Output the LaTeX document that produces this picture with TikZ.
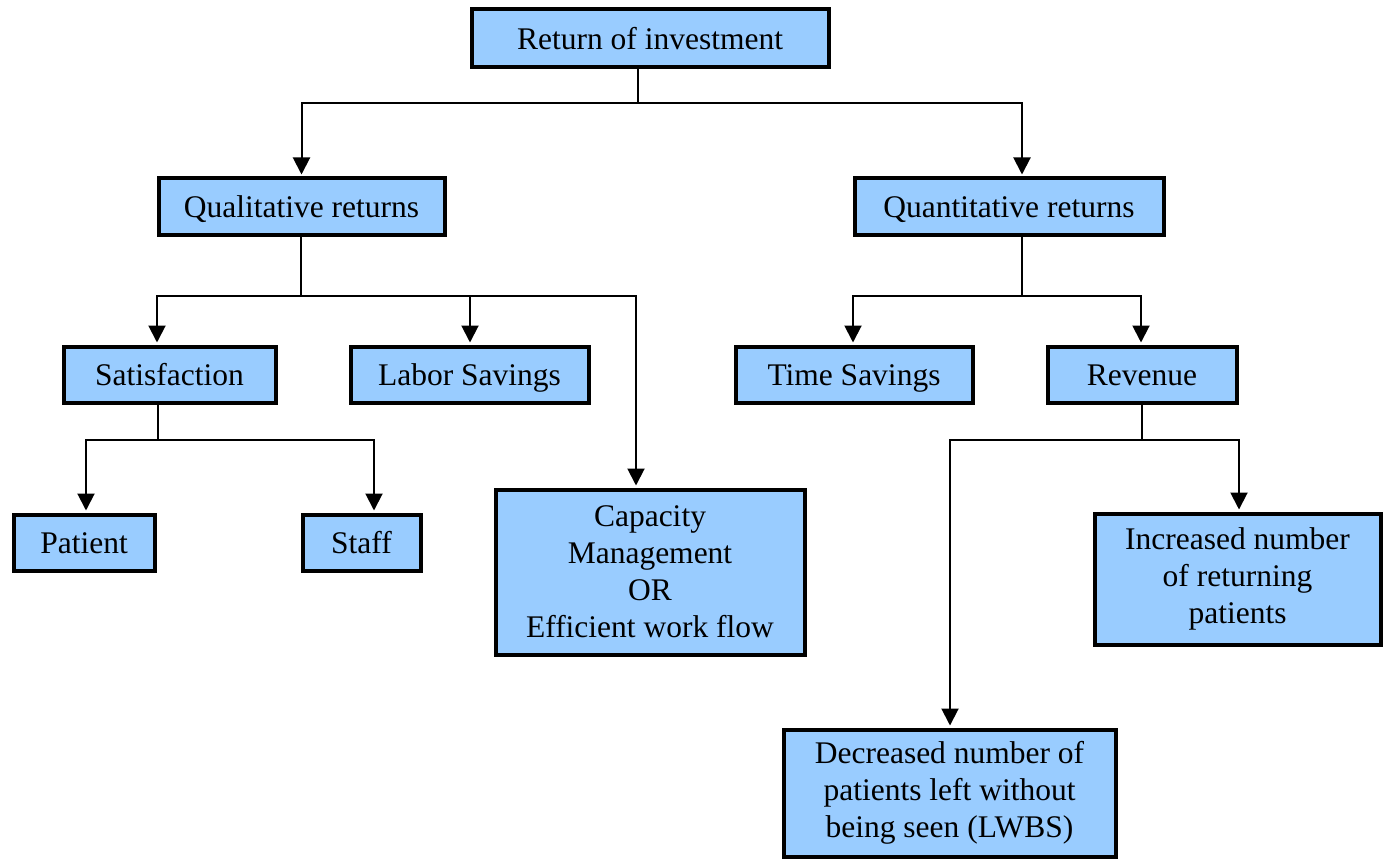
\documentclass[tikz,border=0pt]{standalone}
\usepackage{fontspec}
\setmainfont{Liberation Serif}
\newfontfamily\timesfont{Liberation Serif}
\usetikzlibrary{arrows.meta}
\definecolor{boxblue}{HTML}{99CCFF}
\tikzset{
  box/.style={draw=black, line width=4pt, fill=boxblue, inner sep=0pt,
    align=center, font=\timesfont\fontsize{31.5}{37}\selectfont},
  one/.style={text height=22pt, text depth=0pt},
  conn/.style={line width=2pt, draw=black},
  arr/.style={conn, -{Triangle[width=17pt,length=17pt]}, shorten >=2pt},
}
\begin{document}
\begin{tikzpicture}[x=1pt,y=-1pt]
\useasboundingbox[fill=white] (0,0) rectangle (1387,861);
% boxes (center, size)
\node[box, one, minimum width=357pt, minimum height=58pt] (root) at (650,38.5) {Return of investment};
\node[box, one, minimum width=286pt, minimum height=57pt] (qual) at (301.5,207) {Qualitative returns};
\node[box, one, minimum width=309pt, minimum height=57pt] (quan) at (1009,207) {Quantitative returns};
\node[box, one, minimum width=212pt, minimum height=56pt] (sat) at (169.5,374.5) {Satisfaction};
\node[box, one, minimum width=238pt, minimum height=56pt] (labor) at (469.5,374.5) {Labor Savings};
\node[box, one, minimum width=237pt, minimum height=56pt] (time) at (854,374.5) {Time Savings};
\node[box, one, minimum width=189pt, minimum height=56pt] (rev) at (1142,374.5) {Revenue};
\node[box, one, minimum width=141pt, minimum height=56pt] (patient) at (84,542.5) {Patient};
\node[box, one, minimum width=118pt, minimum height=56pt] (staff) at (361.5,542.5) {Staff};
\node[box, minimum width=309pt, minimum height=165pt] (cap) at (650,572) {Capacity\\Management\\OR\\Efficient work flow};
\node[box, minimum width=286pt, minimum height=131pt] (inc) at (1237.5,579) {Increased number\\of returning\\patients};
\node[box, minimum width=332pt, minimum height=127pt] (dec) at (949.5,793) {Decreased number of\\patients left without\\being seen (LWBS)};
% junction points
\coordinate (j1) at (638,103);
\coordinate (j1a) at (1022,103);
\coordinate (j2) at (301,296);
\coordinate (j2a) at (157,296);
\coordinate (j2b) at (470,296);
\coordinate (j2c) at (636,296);
\coordinate (j3) at (1022,296);
\coordinate (j3a) at (853,296);
\coordinate (j3b) at (1141,296);
\coordinate (j4) at (158,440);
\coordinate (j4a) at (86,440);
\coordinate (j4b) at (374,440);
\coordinate (j5) at (1142,440);
\coordinate (j5a) at (950,440);
\coordinate (j5b) at (1239,440);
% root
\draw[conn] (root.south -| j1) -- (j1);
\draw[arr] (j1) -| (qual.north);
\draw[arr] (j1) -- (j1a) -- (j1a |- quan.north);
% qualitative
\draw[conn] (qual.south -| j2) -- (j2);
\draw[arr] (j2) -- (j2a) -- (j2a |- sat.north);
\draw[arr] (j2) -- (j2b) -- (j2b |- labor.north);
\draw[arr] (j2b) -- (j2c) -- (j2c |- cap.north);
% quantitative
\draw[conn] (quan.south -| j3) -- (j3);
\draw[arr] (j3) -- (j3a) -- (j3a |- time.north);
\draw[arr] (j3) -- (j3b) -- (j3b |- rev.north);
% satisfaction
\draw[conn] (sat.south -| j4) -- (j4);
\draw[arr] (j4) -- (j4a) -- (j4a |- patient.north);
\draw[arr] (j4) -- (j4b) -- (j4b |- staff.north);
% revenue
\draw[conn] (rev.south -| j5) -- (j5);
\draw[arr] (j5) -- (j5a) -- (j5a |- dec.north);
\draw[arr] (j5) -- (j5b) -- (j5b |- inc.north);
\end{tikzpicture}
\end{document}
